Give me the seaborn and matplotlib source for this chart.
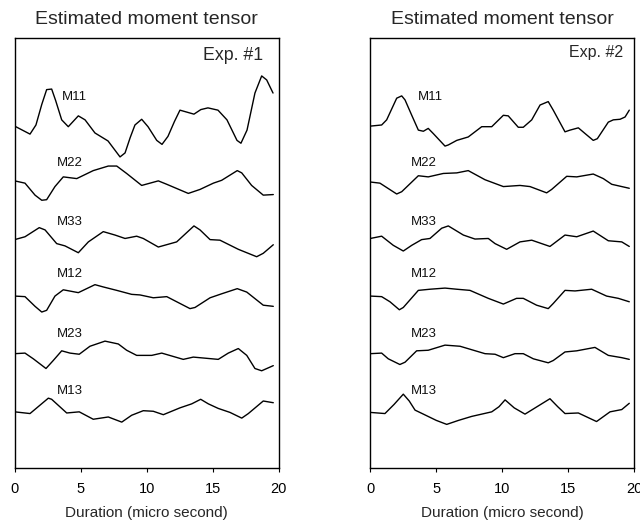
import matplotlib
matplotlib.use("Agg")
import matplotlib.pyplot as plt
import seaborn as sns
import numpy as np
import pandas as pd

sns.set_style("ticks")
plt.rcParams["font.family"] = ["Liberation Sans", "DejaVu Sans"]

components = ["M11", "M22", "M33", "M12", "M23", "M13"]
offsets = [6, 5, 4, 3, 2, 1]
titles = ["Estimated moment tensor", "Estimated moment tensor"]
exp_labels = ["Exp. #1", "Exp. #2"]
x_label = "Duration (micro second)"
x_ticks = [0, 5, 10, 15, 20]

# ---- Experiment 1 ----
e1_m11_t = [0, 1.16, 1.61, 2.05, 2.42, 2.80, 3.10, 3.56, 4.06, 4.82, 5.33, 6.08, 7.07, 7.98, 8.36, 8.75, 9.11, 9.62, 10.10,
            10.76, 11.16, 11.61, 12.10, 12.52, 13.58, 14.10, 14.64, 15.40, 16.08, 16.84, 17.14, 17.60, 18.20, 18.71, 19.09, 19.57]
e1_m11_a = [0.0, -0.14, 0.02, 0.38, 0.64, 0.65, 0.45, 0.11, -0.01, 0.18, 0.11, -0.12, -0.26, -0.54, -0.47, -0.20, 0.02, 0.12, -0.01,
            -0.25, -0.32, -0.18, 0.08, 0.28, 0.21, 0.29, 0.32, 0.28, 0.11, -0.25, -0.30, -0.07, 0.58, 0.88, 0.81, 0.58]

e1_m22_t = [0, 0.78, 1.54, 2.05, 2.42, 3.05, 3.68, 4.70, 5.95, 7.09, 7.73, 8.48, 9.62, 10.88, 11.52,
            13.15, 14.04, 15.05, 15.68, 16.86, 17.20, 17.95, 18.83, 19.59]
e1_m22_a = [0.04, 0.0, -0.21, -0.30, -0.29, -0.06, 0.11, 0.08, 0.22, 0.30, 0.30, 0.17, -0.04, 0.04, -0.02,
            -0.18, -0.11, 0.0, 0.05, 0.22, 0.18, -0.04, -0.21, -0.20]

e1_m33_t = [0, 0.78, 1.86, 2.30, 3.18, 3.81, 4.82, 5.58, 6.71, 7.60, 8.36, 9.24, 9.74, 10.88, 12.27,
            13.58, 14.04, 14.80, 15.55, 16.94, 18.33, 18.83, 19.59]
e1_m33_a = [0.01, 0.06, 0.22, 0.18, -0.06, -0.10, -0.22, -0.03, 0.15, 0.09, 0.03, 0.07, 0.03, -0.12, -0.03,
            0.25, 0.18, 0.01, 0.0, -0.16, -0.29, -0.23, -0.08]

e1_m12_t = [0, 0.78, 1.54, 2.05, 2.42, 3.05, 3.68, 4.82, 6.08, 6.71, 7.73, 8.86, 9.49, 10.50, 11.52,
            13.28, 13.66, 14.80, 15.68, 16.86, 17.58, 18.83, 19.59]
e1_m12_a = [0.02, 0.01, -0.16, -0.26, -0.23, 0.02, 0.13, 0.08, 0.22, 0.18, 0.12, 0.05, 0.04, -0.01, 0.01,
            -0.20, -0.18, -0.01, 0.06, 0.15, 0.09, -0.14, -0.16]

e1_m23_t = [0, 0.78, 1.41, 2.37, 2.92, 3.56, 4.19, 4.89, 5.70, 6.84, 7.85, 8.48, 9.24, 10.38, 11.14,
            12.77, 13.53, 15.42, 16.18, 16.94, 17.58, 18.20, 18.71, 19.59]
e1_m23_a = [0.01, 0.02, -0.08, -0.25, -0.11, 0.06, 0.02, 0.0, 0.14, 0.23, 0.18, 0.07, -0.02, -0.02, 0.02,
            -0.09, -0.05, -0.09, 0.02, 0.10, -0.02, -0.25, -0.29, -0.20]

e1_m13_t = [0, 1.16, 2.55, 2.80, 3.94, 4.89, 5.95, 7.09, 8.11, 8.86, 9.74, 10.50, 11.26, 12.52, 13.41,
            14.09, 14.67, 15.42, 16.31, 17.20, 17.70, 18.83, 19.59]
e1_m13_a = [-0.01, -0.04, 0.23, 0.21, -0.03, -0.01, -0.14, -0.10, -0.19, -0.07, 0.01, 0.0, -0.06, 0.06, 0.13,
            0.21, 0.13, 0.05, -0.02, -0.12, -0.04, 0.18, 0.15]

# ---- Experiment 2 ----
e2_m11_t = [0, 0.86, 1.24, 2.00, 2.38, 2.63, 3.14, 3.64, 4.02, 4.39, 4.77, 5.66, 5.91, 6.55, 7.42, 8.44,
            9.20, 10.08, 10.45, 11.21, 11.59, 12.23, 12.86, 13.48, 13.86, 14.75, 15.13, 15.76, 16.27, 16.89,
            17.20, 18.03, 18.41, 18.92, 19.30, 19.62]
e2_m11_a = [0.0, 0.02, 0.11, 0.49, 0.53, 0.46, 0.19, -0.07, -0.09, -0.04, -0.13, -0.35, -0.33, -0.25, -0.19, -0.01,
            -0.01, 0.19, 0.18, -0.02, -0.02, 0.11, 0.37, 0.43, 0.28, -0.10, -0.07, -0.03, -0.13, -0.25,
            -0.22, 0.07, 0.11, 0.12, 0.16, 0.28]

e2_m22_t = [0, 0.73, 2.00, 2.38, 3.64, 4.39, 5.53, 6.55, 7.42, 8.69, 10.08, 11.34, 12.10, 13.36, 13.74,
            14.88, 15.64, 16.89, 17.65, 18.29, 19.62]
e2_m22_a = [0.02, 0.0, -0.19, -0.15, 0.13, 0.11, 0.17, 0.18, 0.22, 0.06, -0.06, -0.04, -0.06, -0.17, -0.11,
            0.12, 0.11, 0.16, 0.08, -0.02, -0.09]

e2_m33_t = [0, 0.86, 1.74, 2.50, 3.14, 3.89, 4.52, 5.41, 5.91, 7.05, 7.93, 8.94, 9.45, 10.33, 11.34,
            12.23, 13.61, 14.75, 15.64, 16.89, 18.03, 19.05, 19.62]
e2_m33_a = [0.03, 0.07, -0.09, -0.19, -0.09, 0.01, 0.03, 0.21, 0.25, 0.09, 0.02, 0.03, -0.06, -0.16, -0.03,
            0.0, -0.11, 0.09, 0.06, 0.16, -0.01, -0.03, -0.11]

e2_m12_t = [0, 0.86, 1.49, 2.20, 2.50, 3.64, 4.52, 5.66, 6.55, 7.55, 8.94, 10.08, 11.08, 11.59, 12.60,
            13.48, 13.86, 14.75, 15.51, 16.77, 17.90, 18.79, 19.62]
e2_m12_a = [0.02, 0.01, -0.08, -0.22, -0.18, 0.12, 0.14, 0.16, 0.14, 0.12, -0.02, -0.12, -0.02, -0.02, -0.14,
            -0.20, -0.11, 0.12, 0.11, 0.14, 0.02, -0.02, -0.08]

e2_m23_t = [0, 0.86, 1.36, 2.24, 2.63, 3.51, 4.39, 5.66, 6.80, 8.69, 9.45, 10.08, 10.96, 11.59, 12.35,
            13.48, 13.86, 14.75, 15.64, 17.02, 18.03, 19.05, 19.62]
e2_m23_a = [0.01, 0.02, -0.08, -0.18, -0.14, 0.06, 0.07, 0.16, 0.14, 0.01, 0.0, -0.06, 0.01, 0.01, -0.08,
            -0.15, -0.11, 0.04, 0.06, 0.12, -0.02, -0.06, -0.09]

e2_m13_t = [0, 1.11, 1.80, 2.50, 2.95, 3.39, 4.02, 5.00, 5.79, 6.68, 7.68, 9.20, 9.75, 10.21, 10.90, 11.72,
            12.70, 13.61, 14.20, 14.75, 15.76, 17.14, 18.16, 19.05, 19.62]
e2_m13_a = [-0.02, -0.04, 0.12, 0.30, 0.18, 0.02, -0.05, -0.16, -0.23, -0.16, -0.09, -0.01, 0.08, 0.20, 0.06, -0.05,
            0.09, 0.22, 0.08, -0.04, -0.03, -0.18, -0.01, 0.03, 0.14]

exp1 = [(e1_m11_t, e1_m11_a), (e1_m22_t, e1_m22_a), (e1_m33_t, e1_m33_a),
        (e1_m12_t, e1_m12_a), (e1_m23_t, e1_m23_a), (e1_m13_t, e1_m13_a)]
exp2 = [(e2_m11_t, e2_m11_a), (e2_m22_t, e2_m22_a), (e2_m33_t, e2_m33_a),
        (e2_m12_t, e2_m12_a), (e2_m23_t, e2_m23_a), (e2_m13_t, e2_m13_a)]

fig = plt.figure(figsize=(6.4, 5.24), dpi=100)
W, H = 640, 524
ax_boxes = [(14.7, 278.7), (370.3, 634.3)]
top_px, bot_px = 38.3, 468.3

label_dy = [0.51, 0.35, 0.32, 0.41, 0.35, 0.36]
label_x = [[3.6, 3.2, 3.2, 3.2, 3.2, 3.2], [3.6, 3.1, 3.1, 3.1, 3.1, 3.1]]
exp_sizes = [12.8, 11.5]
exp_pos = [(263.3, 55.5), (622.7, 52.3)]

for i, data in enumerate([exp1, exp2]):
    l, r = ax_boxes[i]
    ax = fig.add_axes([l / W, 1 - bot_px / H, (r - l) / W, (bot_px - top_px) / H])
    for k, (t, a) in enumerate(data):
        df = pd.DataFrame({"t": t, "y": np.array(a) + offsets[k]})
        sns.lineplot(data=df, x="t", y="y", ax=ax, color="black", lw=1.0, sort=False, estimator=None)
        ax.text(label_x[i][k], offsets[k] + label_dy[k], components[k], fontsize=9.5,
                ha="left", va="center", color="#111111")
    ax.set_xlim(0, 20)
    ax.set_ylim(0, 7.54)
    ax.set_xticks(x_ticks)
    ax.set_xticklabels([str(v) for v in x_ticks], fontsize=10.5)
    ax.set_yticks([])
    ax.set_ylabel("")
    ax.set_xlabel(x_label, fontsize=11, labelpad=7)
    ax.set_title(titles[i], fontsize=14, pad=10)
    ax.tick_params(axis="x", direction="out", length=3.2, width=0.8, pad=7, colors="black")
    for s in ax.spines.values():
        s.set_visible(True)
        s.set_color("black")
        s.set_linewidth(1.0)
    ex, ey = exp_pos[i]
    fig.text(ex / W, 1 - ey / H, exp_labels[i], fontsize=exp_sizes[i], ha="right", va="center")

fig.savefig("out.png", dpi=100)
